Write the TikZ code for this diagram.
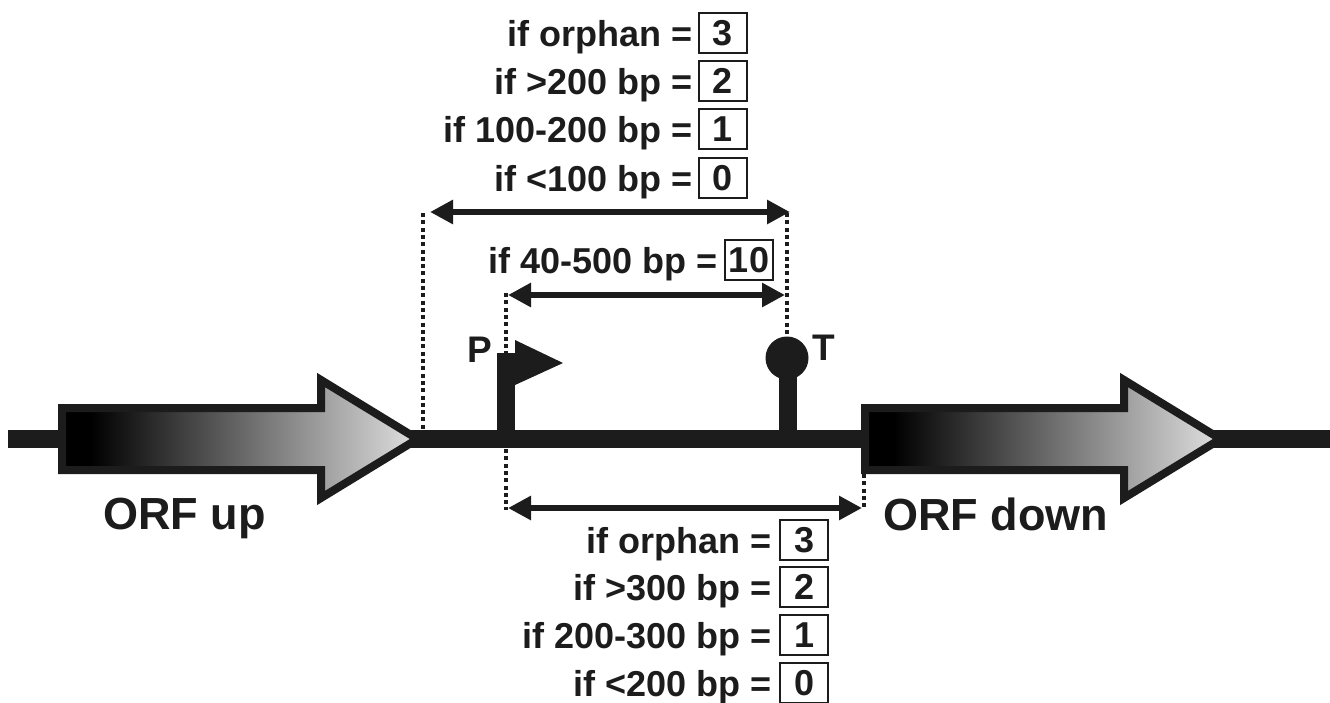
\documentclass[tikz,border=0pt]{standalone}
\usepackage{fontspec}
\setmainfont{Liberation Sans}
\usetikzlibrary{arrows.meta}
\definecolor{ink}{RGB}{28,28,28}
\pgfdeclarehorizontalshading{orfshade}{100bp}{color(0bp)=(black); color(29bp)=(black); color(75bp)=(black!12); color(100bp)=(black!12)}
\begin{document}
\begin{tikzpicture}[x=1pt,y=-1pt, line join=miter,
  txt/.style={font=\fontsize{36}{40}\selectfont\bfseries, text=ink, inner sep=0pt, anchor=base east},
  valbox/.style={draw=ink, line width=2pt, minimum width=48pt, minimum height=40pt, inner sep=0pt, font=\fontsize{36}{40}\selectfont\bfseries, text=ink},
  dim/.style={draw=ink, line width=6.5pt, {Triangle[length=23pt,width=23pt]}-{Triangle[length=23pt,width=23pt]}},
  dots/.style={draw=ink, line width=4.5pt, dash pattern=on 4pt off 3.3pt},
  lbl/.style={font=\fontsize{45}{50}\selectfont\bfseries, text=ink, inner sep=0pt, anchor=base west},
  pt/.style={font=\fontsize{37}{42}\selectfont\bfseries, text=ink, inner sep=0pt},
  orf/.pic={
    \shadedraw[shading=orfshade, draw=ink, line width=8pt]
      (0,-31) -- (259,-31) -- (259,-59) -- (355.5,0) -- (259,59) -- (259,31) -- (0,31) -- cycle;
  }
]
\useasboundingbox (0,0) rectangle (1330,702);
\fill[white] (0,0) rectangle (1330,702);

% DNA backbone
\coordinate (L0) at (8,439);
\coordinate (L1) at (1330,439);
\draw[ink, line width=18pt] (L0) -- (L1);

% ORFs
\pic at (62,439) {orf};
\pic at (865,439) {orf};

% promoter
\fill[ink] (497,446) rectangle (515,353);
\fill[ink] (515,340) -- (563,363) -- (515,385) -- cycle;

% terminator
\fill[ink] (779,446) rectangle (797,372);
\fill[ink] (787,358) circle[radius=21.5];

% dotted guides
\coordinate (g1a) at (423,213); \coordinate (g1b) at (423,431);
\coordinate (g2a) at (787,213); \coordinate (g2b) at (787,337);
\coordinate (g3a) at (506,293); \coordinate (g3b) at (506,353);
\coordinate (g4a) at (506,449); \coordinate (g4b) at (506,510);
\coordinate (g5a) at (864,474); \coordinate (g5b) at (864,510);
\draw[dots] (g1a) -- (g1b);
\draw[dots] (g2a) -- (g2b);
\draw[dots] (g3a) -- (g3b);
\draw[dots] (g4a) -- (g4b);
\draw[dots] (g5a) -- (g5b);

% dimension arrows
\coordinate (a1) at (430,212); \coordinate (a2) at (790,212);
\coordinate (b1) at (508,295); \coordinate (b2) at (785,295);
\coordinate (c1) at (508,508); \coordinate (c2) at (862,508);
\draw[dim] (a1) -- (a2);
\draw[dim] (b1) -- (b2);
\draw[dim] (c1) -- (c2);

% top block
\node[txt] (t1) at (693,46) {if orphan =};
\node[valbox] (v1) at (723,33) {3};
\node[txt] (t2) at (693,94) {if >200 bp =};
\node[valbox] (v2) at (723,81) {2};
\node[txt] (t3) at (693,142) {if 100-200 bp =};
\node[valbox] (v3) at (723,129) {1};
\node[txt] (t4) at (693,191) {if <100 bp =};
\node[valbox] (v4) at (723,178) {0};

% middle
\node[txt] (m1) at (718,273) {if 40-500 bp =};
\node[valbox] (mv1) at (749,260) {10};

% bottom block
\node[txt] (s1) at (772,553) {if orphan =};
\node[valbox] (w1) at (804,540) {3};
\node[txt] (s2) at (772,600) {if >300 bp =};
\node[valbox] (w2) at (804,587) {2};
\node[txt] (s3) at (772,648) {if 200-300 bp =};
\node[valbox] (w3) at (804,635) {1};
\node[txt] (s4) at (772,696) {if <200 bp =};
\node[valbox] (w4) at (804,683) {0};

% labels
\node[pt, anchor=base east] (P) at (492,362) {P};
\node[pt, anchor=base west] (T) at (812,360) {T};
\node[lbl] (up) at (103,529) {ORF up};
\node[lbl] (down) at (883,530) {ORF down};
\end{tikzpicture}
\end{document}
